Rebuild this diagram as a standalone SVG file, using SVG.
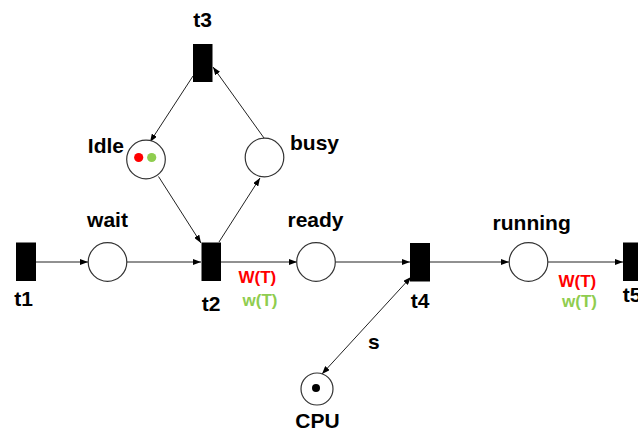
<svg xmlns="http://www.w3.org/2000/svg" width="638" height="432" viewBox="0 0 638 432">
<style>
.place{fill:#fff;stroke:#333;stroke-width:1.2}
.trans{fill:#000}
.lbl{font-family:"Liberation Sans",Arial,sans-serif;font-weight:bold;font-size:21px;fill:#000}
.wt{font-family:"Liberation Sans",Arial,sans-serif;font-weight:bold;font-size:17px}
.arc{stroke:#222;stroke-width:1;fill:none;marker-end:url(#ah)}
</style>
<defs>
<marker id="ah" markerUnits="userSpaceOnUse" markerWidth="8" markerHeight="6" refX="8" refY="3" orient="auto">
<path d="M0,0 L8,3 L0,6 Z" fill="#000"/>
</marker>
<marker id="ahs" markerUnits="userSpaceOnUse" markerWidth="8" markerHeight="6" refX="0" refY="3" orient="auto">
<path d="M8,0 L0,3 L8,6 Z" fill="#000"/>
</marker>
</defs>
<rect width="638" height="432" fill="#fff"/>
<g id="connectors">
<line class="arc" x1="193" y1="76" x2="150" y2="142"/>
<line class="arc" x1="264" y1="138" x2="213" y2="67"/>
<line class="arc" x1="158.5" y1="176.5" x2="201" y2="243"/>
<line class="arc" x1="219" y1="242" x2="260" y2="178"/>
<line class="arc" x1="36" y1="262" x2="88" y2="262"/>
<line class="arc" x1="127" y1="262" x2="201" y2="262"/>
<line class="arc" x1="221" y1="262" x2="297" y2="262"/>
<line class="arc" x1="335" y1="262" x2="410" y2="262"/>
<line class="arc" x1="430" y1="262" x2="509" y2="262"/>
<line class="arc" x1="548" y1="262" x2="623" y2="262"/>
<line class="arc" x1="322" y1="374" x2="411" y2="277" style="marker-start:url(#ahs)"/>
<text class="lbl" x="368" y="349">s</text>
<text class="wt" x="238.5" y="283" fill="#ff0000">W(T)</text>
<text class="wt" x="242.5" y="306" fill="#8fcd4f">w(T)</text>
<text class="wt" x="558.5" y="287" fill="#ff0000">W(T)</text>
<text class="wt" x="562" y="307" fill="#8fcd4f">w(T)</text>
</g>
<g id="t3"><rect class="trans" x="193" y="44" width="19.5" height="38"/><text class="lbl" x="202.5" y="27" text-anchor="middle">t3</text></g>
<g id="idle"><circle class="place" cx="146" cy="159.5" r="19.3"/><circle cx="138.7" cy="157.5" r="4.6" fill="#ff0000"/><circle cx="151.7" cy="157.5" r="4.6" fill="#8fcd4f"/><text class="lbl" x="124" y="153" text-anchor="end">Idle</text></g>
<g id="busy"><circle class="place" cx="264.5" cy="157.5" r="19.3"/><text class="lbl" x="290" y="150">busy</text></g>
<g id="t1"><rect class="trans" x="16" y="242.5" width="20" height="38.5"/><text class="lbl" x="23.5" y="306" text-anchor="middle">t1</text></g>
<g id="wait"><circle class="place" cx="107.5" cy="262" r="19.3"/><text class="lbl" x="107.5" y="227" text-anchor="middle">wait</text></g>
<g id="t2"><rect class="trans" x="201.5" y="242.5" width="19.5" height="38.5"/><text class="lbl" x="211" y="311" text-anchor="middle">t2</text></g>
<g id="ready"><circle class="place" cx="316" cy="262" r="19.3"/><text class="lbl" x="315.5" y="227" text-anchor="middle">ready</text></g>
<g id="t4"><rect class="trans" x="410" y="243" width="20" height="38.5"/><text class="lbl" x="420" y="308" text-anchor="middle">t4</text></g>
<g id="running"><circle class="place" cx="528.5" cy="262" r="19.3"/><text class="lbl" x="531.7" y="230" text-anchor="middle">running</text></g>
<g id="t5"><rect class="trans" x="623" y="242.5" width="20" height="38.5"/><text class="lbl" x="622.7" y="302">t5</text></g>
<g id="cpu"><circle class="place" cx="317" cy="389" r="16"/><circle cx="316" cy="388" r="4" fill="#000"/><text class="lbl" x="317.5" y="428" text-anchor="middle">CPU</text></g>
</svg>
